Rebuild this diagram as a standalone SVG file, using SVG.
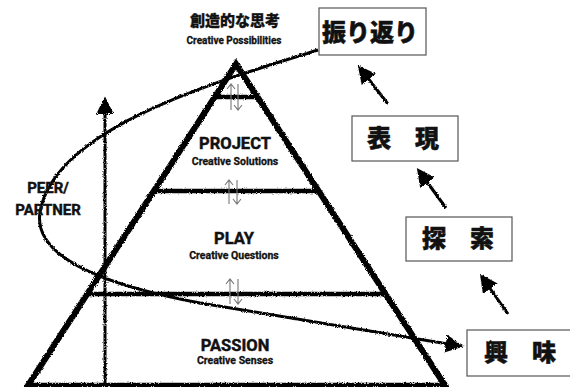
<svg xmlns="http://www.w3.org/2000/svg" width="570" height="387" viewBox="0 0 570 387">
<defs>
<filter id="rough" x="-5%" y="-5%" width="110%" height="110%">
<feTurbulence type="fractalNoise" baseFrequency="0.9" numOctaves="2" seed="3" result="n"/>
<feDisplacementMap in="SourceGraphic" in2="n" scale="3" xChannelSelector="R" yChannelSelector="G"/>
</filter>
<marker id="head" viewBox="0 0 10 10" refX="8" refY="5" markerWidth="6" markerHeight="6" orient="auto" markerUnits="strokeWidth">
<path d="M0,0 L10,5 L0,10 Z" fill="#000"/>
</marker>
</defs>
<style>
.en{font-family:Roboto,"Liberation Sans",sans-serif;font-weight:bold;text-anchor:middle;fill:#111;stroke:#111;stroke-width:0.45}
.jp{font-family:"Noto Sans CJK JP",sans-serif;font-weight:900;text-anchor:middle;fill:#111;stroke:#111;stroke-width:0.5}
.box{fill:#fff;stroke:#555;stroke-width:1.2}
.edge{stroke:#000;stroke-width:6;stroke-linecap:round;fill:none}
.bar{stroke:#000;stroke-width:4.5;fill:none}
.line{stroke:#000;stroke-width:3;fill:none}
.tiny{stroke:#777;stroke-width:1.1;fill:none}
</style>
<rect width="570" height="387" fill="#fff"/>
<g id="pyramid" filter="url(#rough)">
<path class="edge" d="M27,387 L236,64 L446,387"/>
<line class="bar" x1="213" y1="97" x2="259" y2="97"/>
<line class="bar" x1="153" y1="191" x2="319" y2="191"/>
<line class="bar" x1="88" y1="294" x2="384" y2="294"/>
<line class="bar" x1="27" y1="385" x2="446" y2="385"/>
</g>
<g id="updown">
<path class="tiny" d="M231,110 V84 M227,89 L231,84 L235,89 M238,84 V110 M234,105 L238,110 L242,105"/>
<path class="tiny" d="M229,204 V180 M225,185 L229,180 L233,185 M237,180 V204 M233,199 L237,204 L241,199"/>
<path class="tiny" d="M230,304 V279 M226,284 L230,279 L234,284 M238,279 V304 M234,299 L238,304 L242,299"/>
</g>
<g id="connectors" filter="url(#rough)">
<line class="line" x1="105" y1="387" x2="105" y2="100" marker-end="url(#head)"/>
<path class="line" d="M318,50 C230,78 55,125 40,212 C32,262 120,288 200,303 L460,346" marker-end="url(#head)"/>
<line class="line" x1="388" y1="104" x2="360" y2="68" marker-end="url(#head)"/>
<line class="line" x1="446" y1="208" x2="419" y2="171" marker-end="url(#head)"/>
<line class="line" x1="508" y1="314" x2="482" y2="277" marker-end="url(#head)"/>
</g>
<g id="top-label">
<text class="jp" x="235" y="26" font-size="15" style="stroke-width:0.3">創造的な思考</text>
<text class="en" x="234" y="44" font-size="10" style="stroke-width:0.3">Creative Possibilities</text>
</g>
<g id="project">
<text class="en" x="235" y="149" font-size="16.5">PROJECT</text>
<text class="en" x="235" y="165" font-size="10.5" style="stroke-width:0.3">Creative Solutions</text>
</g>
<g id="play">
<text class="en" x="234" y="244" font-size="16.5">PLAY</text>
<text class="en" x="234" y="259" font-size="10.5" style="stroke-width:0.3">Creative Questions</text>
</g>
<g id="passion">
<text class="en" x="235" y="351" font-size="16.5">PASSION</text>
<text class="en" x="235" y="364" font-size="10.5" style="stroke-width:0.3">Creative Senses</text>
</g>
<g id="peer">
<text class="en" x="48" y="193" font-size="15">PEER/</text>
<text class="en" x="48" y="215" font-size="15">PARTNER</text>
</g>
<g id="furikaeri">
<rect class="box" x="319" y="8" width="107" height="47"/>
<text class="jp" x="370" y="41" font-size="24">振り返り</text>
</g>
<g id="hyougen">
<rect class="box" x="352" y="116" width="106" height="45"/>
<text class="jp" x="403" y="147" font-size="24">表　現</text>
</g>
<g id="tansaku">
<rect class="box" x="406" y="217" width="106" height="44"/>
<text class="jp" x="458" y="247" font-size="24">探　索</text>
</g>
<g id="kyoumi">
<rect class="box" x="467" y="330" width="106" height="46"/>
<text class="jp" x="520" y="361" font-size="24">興　味</text>
</g>
</svg>
